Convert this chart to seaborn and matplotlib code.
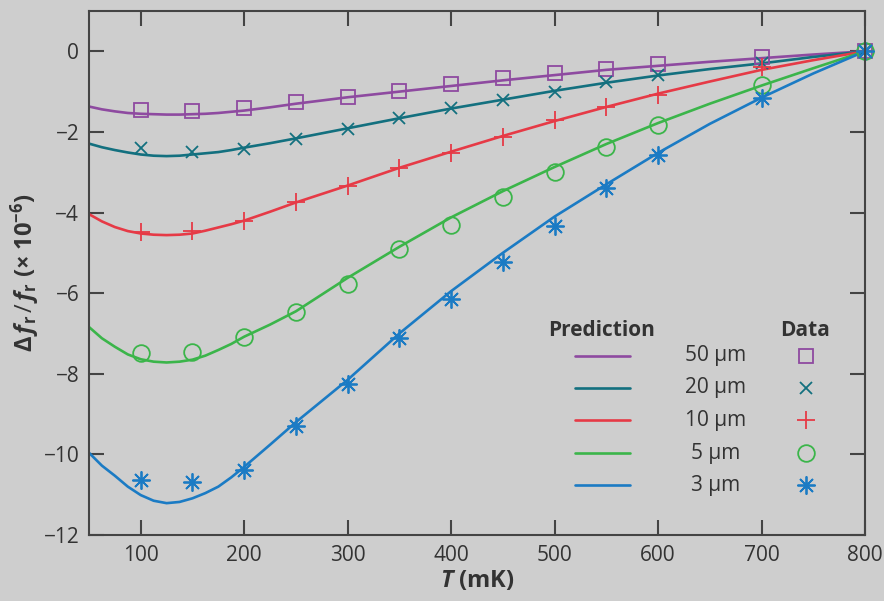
import numpy as np
import pandas as pd
import matplotlib
matplotlib.use("Agg")
import matplotlib.pyplot as plt
import seaborn as sns
from matplotlib.lines import Line2D

# ---------------- data ----------------
sizes = ["50 µm", "20 µm", "10 µm", "5 µm", "3 µm"]
colors = ["#8e4aa0", "#13707f", "#e63a46", "#3bb54a", "#1b7bc4"]

T_data = [100, 150, 200, 250, 300, 350, 400, 450, 500, 550, 600, 700, 800]
data_50 = [-1.46, -1.49, -1.41, -1.26, -1.14, -0.99, -0.82, -0.67, -0.55, -0.45, -0.32, -0.15, 0.0]
data_20 = [-2.40, -2.50, -2.43, -2.18, -1.93, -1.66, -1.41, -1.21, -1.02, -0.77, -0.60, -0.30, 0.0]
data_10 = [-4.49, -4.46, -4.21, -3.74, -3.35, -2.90, -2.53, -2.13, -1.71, -1.38, -1.08, -0.40, 0.0]
data_5 = [-7.49, -7.46, -7.09, -6.47, -5.78, -4.91, -4.31, -3.62, -3.00, -2.38, -1.83, -0.84, 0.0]
data_3 = [-10.64, -10.69, -10.39, -9.29, -8.26, -7.12, -6.15, -5.23, -4.34, -3.40, -2.58, -1.17, 0.0]

T_pred = [50, 62.5, 75, 87.5, 100, 112.5, 125, 137.5, 150, 162.5, 175, 187.5, 200,
          225, 250, 300, 350, 400, 450, 500, 550, 600, 650, 700, 750, 800]
pred_50 = [-1.37, -1.44, -1.49, -1.53, -1.55, -1.56, -1.57, -1.57, -1.56, -1.55, -1.53, -1.50, -1.47,
           -1.39, -1.30, -1.14, -1.00, -0.86, -0.72, -0.59, -0.46, -0.36, -0.26, -0.17, -0.08, 0.0]
pred_20 = [-2.29, -2.38, -2.45, -2.51, -2.56, -2.59, -2.60, -2.59, -2.56, -2.53, -2.50, -2.45, -2.39,
           -2.28, -2.16, -1.91, -1.66, -1.42, -1.20, -0.98, -0.78, -0.60, -0.44, -0.30, -0.14, 0.0]
pred_10 = [-4.04, -4.22, -4.36, -4.46, -4.52, -4.55, -4.56, -4.55, -4.52, -4.45, -4.37, -4.29, -4.20,
           -3.98, -3.75, -3.33, -2.89, -2.49, -2.10, -1.73, -1.38, -1.05, -0.75, -0.46, -0.22, 0.0]
pred_5 = [-6.84, -7.12, -7.33, -7.52, -7.64, -7.70, -7.72, -7.70, -7.65, -7.55, -7.41, -7.26, -7.08,
          -6.78, -6.45, -5.62, -4.85, -4.12, -3.47, -2.87, -2.30, -1.78, -1.30, -0.85, -0.42, 0.0]
pred_3 = [-9.96, -10.28, -10.53, -10.80, -11.01, -11.15, -11.21, -11.18, -11.09, -10.96, -10.80, -10.57, -10.31,
          -9.76, -9.20, -8.15, -7.00, -5.95, -5.00, -4.10, -3.30, -2.52, -1.80, -1.15, -0.55, 0.0]

x_ticks = [100, 200, 300, 400, 500, 600, 700, 800]
y_ticks = [0, -2, -4, -6, -8, -10, -12]

data_sets = [data_50, data_20, data_10, data_5, data_3]
pred_sets = [pred_50, pred_20, pred_10, pred_5, pred_3]
markers = ["s", "x", "+", "o", (8, 2, 0)]
msizes = [10, 9, 13, 12, 13]

# ---------------- style ----------------
bg = "#cecece"
sns.set_theme(style="ticks")
plt.rcParams["font.family"] = ["Open Sans", "DejaVu Sans"]
plt.rcParams["mathtext.fontset"] = "custom"
plt.rcParams["mathtext.rm"] = "Open Sans"
plt.rcParams["mathtext.it"] = "Open Sans:italic"
plt.rcParams["mathtext.bf"] = "Open Sans:bold"
plt.rcParams["mathtext.bfit"] = "Open Sans:italic:bold"
plt.rcParams["axes.unicode_minus"] = True

fig = plt.figure(figsize=(8.84, 6.01), dpi=100, facecolor=bg)
ax = fig.add_axes([89 / 884, 1 - 535 / 601, 776 / 884, 524 / 601])
ax.set_facecolor(bg)

pred_df = pd.concat([pd.DataFrame({"T": T_pred, "v": p, "size": s})
                     for p, s in zip(pred_sets, sizes)])
data_df = pd.concat([pd.DataFrame({"T": T_data, "v": d, "size": s})
                     for d, s in zip(data_sets, sizes)])

sns.lineplot(data=pred_df, x="T", y="v", hue="size", palette=dict(zip(sizes, colors)),
             hue_order=sizes, lw=1.9, legend=False, ax=ax, sort=True)

for s, c, m, ms in zip(sizes, colors, markers, msizes):
    sub = data_df[data_df["size"] == s]
    sns.lineplot(data=sub, x="T", y="v", marker=m, linestyle="none", color=c,
                 markerfacecolor="none", markeredgecolor=c, markeredgewidth=1.3,
                 markersize=ms, legend=False, ax=ax, clip_on=False)

ax.set_xlim(50, 800)
ax.set_ylim(-12, 1)
ax.set_xticks(x_ticks)
ax.set_yticks(y_ticks)
ax.set_yticklabels([f"{v}".replace("-", "\u2212") for v in y_ticks])

spine_c = "#444444"
for sp in ax.spines.values():
    sp.set_visible(True)
    sp.set_color(spine_c)
    sp.set_linewidth(1.5)
ax.tick_params(direction="in", length=11, width=1.5, color=spine_c,
               top=True, right=True, labelsize=15, labelcolor="#333333", pad=7)

ax.set_xlabel(r"$\mathbfit{T}$ (mK)", fontsize=17, fontweight="bold", color="#333333", labelpad=2)
ax.set_ylabel(r"$\mathbf{\Delta}\,\mathbfit{f}_{\mathbf{r}}\,/\,\mathbfit{f}_{\mathbf{r}}$ (× 10$^{\mathbf{-6}}$)",
              fontsize=17, fontweight="bold", color="#333333", labelpad=1)

# ---------------- legend ----------------
tr = ax.transAxes
ax.text(0.661, 0.391, "Prediction", transform=tr, ha="center", va="center",
        fontsize=15, fontweight="bold", color="#333333")
ax.text(0.923, 0.391, "Data", transform=tr, ha="center", va="center",
        fontsize=15, fontweight="bold", color="#333333")
row_y = [0.342, 0.281, 0.219, 0.156, 0.095]
for s, c, m, ms, yy in zip(sizes, colors, markers, msizes, row_y):
    ax.add_line(Line2D([0.626, 0.697], [yy, yy], transform=tr, color=c, lw=1.9))
    ax.text(0.807, yy, s, transform=tr, ha="center", va="center",
            fontsize=15, color="#333333")
    ax.add_line(Line2D([0.924], [yy], transform=tr, marker=m, linestyle="none",
                       markerfacecolor="none", markeredgecolor=c,
                       markeredgewidth=1.3, markersize=ms))

fig.savefig("out.png", dpi=100, facecolor=bg)
